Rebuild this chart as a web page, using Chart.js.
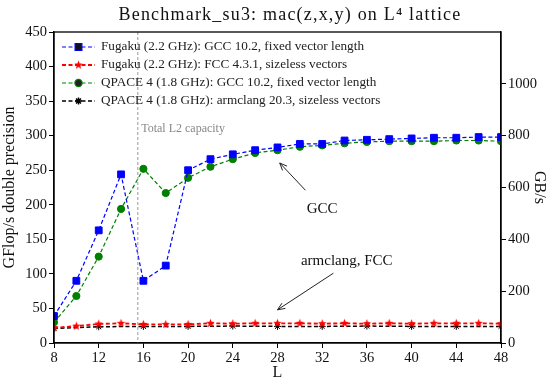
<!DOCTYPE html>
<html>
<head>
<meta charset="utf-8">
<script src="https://cdn.jsdelivr.net/npm/chart.js@4.4.1/dist/chart.umd.min.js"></script>
<style>
  html, body { margin: 0; padding: 0; background: #fff; }
  #wrap { width: 549px; height: 382px; }
</style>
</head>
<body>
<div id="wrap"><canvas id="chart" width="549" height="382"></canvas></div>
<script>
const FONT = "'Liberation Serif', 'DejaVu Serif', serif";

// lattice sizes
const L = [8, 10, 12, 14, 16, 18, 20, 22, 24, 26, 28, 30, 32, 34, 36, 38, 40, 42, 44, 46, 48];
const L_every4 = [8, 12, 16, 20, 24, 28, 32, 36, 40, 44, 48];

// GFlop/s
const fugakuGcc = [39, 90, 163, 244, 90, 112, 250, 266, 273, 279, 283, 288, 288, 293, 294, 295, 296, 297, 297, 298, 298];
const fugakuFcc = [22, 24.5, 27.5, 28.5, 27, 27, 27, 28.5, 28, 28.5, 28.5, 28.5, 28, 28.5, 28, 28.5, 28, 28.5, 28.5, 28.5, 28];
const qpaceGcc = [30, 68, 125, 194, 252, 217, 239, 255, 266, 275, 279, 284, 286, 289, 291, 292, 292, 292, 293, 293, 292];
const qpaceArm = [21, 23.5, 24, 24, 24.5, 24, 24, 24.5, 24, 24, 24];

const labels = [
  "Fugaku (2.2 GHz): GCC 10.2, fixed vector length",
  "Fugaku (2.2 GHz): FCC 4.3.1, sizeless vectors",
  "QPACE 4 (1.8 GHz): GCC 10.2, fixed vector length",
  "QPACE 4 (1.8 GHz): armclang 20.3, sizeless vectors",
];

const leftTicks = [0, 50, 100, 150, 200, 250, 300, 350, 400, 450];
const rightTicks = [0, 200, 400, 600, 800, 1000];
const xTicks = [8, 12, 16, 20, 24, 28, 32, 36, 40, 44, 48];
const l2Capacity = 15.5;

function pts(xs, ys) {
  return xs.map((x, i) => ({ x, y: ys[i] }));
}

// filled 5-point star, matplotlib '*'
function starCanvas(r, color) {
  const c = document.createElement("canvas");
  c.width = c.height = r * 2 + 2;
  const g = c.getContext("2d");
  g.translate(r + 1, r + 1);
  g.beginPath();
  for (let i = 0; i < 10; i++) {
    const rr = i % 2 ? r * 0.42 : r;
    const a = -Math.PI / 2 + (i * Math.PI) / 5;
    g.lineTo(rr * Math.cos(a), rr * Math.sin(a));
  }
  g.closePath();
  g.fillStyle = color;
  g.fill();
  return c;
}
const redStar = starCanvas(4.5, "#ff0000");

const frameAndNotes = {
  id: "frameAndNotes",
  afterDraw(chart) {
    const { ctx, chartArea: a, scales } = chart;
    const sx = scales.x, sy = scales.y;
    ctx.save();

    // L2 line
    ctx.strokeStyle = "#999";
    ctx.lineWidth = 1;
    ctx.setLineDash([3, 2]);
    const lx = sx.getPixelForValue(l2Capacity);
    ctx.beginPath();
    ctx.moveTo(lx, a.top);
    ctx.lineTo(lx, a.bottom);
    ctx.stroke();
    ctx.setLineDash([]);
    ctx.fillStyle = "#888";
    ctx.font = "12px " + FONT;
    ctx.textBaseline = "middle";
    ctx.fillText("Total L2 capacity", sx.getPixelForValue(15.8), sy.getPixelForValue(310));

    // frame
    ctx.strokeStyle = "#000";
    ctx.lineWidth = 1.3;
    ctx.strokeRect(a.left, a.top, a.right - a.left, a.bottom - a.top);

    // title
    ctx.fillStyle = "#111";
    ctx.font = "18px " + FONT;
    ctx.letterSpacing = "1.2px";
    ctx.textAlign = "center";
    ctx.textBaseline = "middle";
    ctx.fillText("Benchmark_su3: mac(z,x,y) on L\u2074 lattice", 290, 15);
    ctx.letterSpacing = "0px";

    // annotations
    ctx.font = "15px " + FONT;
    ctx.fillText("GCC", sx.getPixelForValue(32), sy.getPixelForValue(194));
    ctx.fillText("armclang, FCC", sx.getPixelForValue(34.2), sy.getPixelForValue(118.6));
    arrow(ctx, sx.getPixelForValue(30.5), sy.getPixelForValue(221), sx.getPixelForValue(28.2), sy.getPixelForValue(260.5));
    arrow(ctx, sx.getPixelForValue(33), sy.getPixelForValue(101), sx.getPixelForValue(28), sy.getPixelForValue(48));

    // legend
    ctx.textAlign = "left";
    ctx.font = "13.2px " + FONT;
    chart.data.datasets.forEach((ds, i) => {
      const y = 47 + i * 18;
      ctx.strokeStyle = ds.borderColor;
      ctx.lineWidth = ds.borderWidth;
      ctx.setLineDash(ds.borderDash);
      ctx.beginPath();
      ctx.moveTo(62, y);
      ctx.lineTo(95, y);
      ctx.stroke();
      ctx.setLineDash([]);
      Chart.helpers.drawPoint(ctx, {
        pointStyle: ds.pointStyle,
        radius: ds.pointRadius,
        borderWidth: ds.pointBorderWidth || 1,
        rotation: 0,
      }, 78.5, y);
      ctx.fillStyle = "#222";
      ctx.fillText(ds.label, 101, y);
    });
    ctx.restore();
  },
};

function arrow(ctx, x0, y0, x1, y1) {
  ctx.strokeStyle = "#222";
  ctx.lineWidth = 1;
  ctx.beginPath();
  ctx.moveTo(x0, y0);
  ctx.lineTo(x1, y1);
  const ang = Math.atan2(y1 - y0, x1 - x0);
  const h = 8;
  ctx.moveTo(x1 - h * Math.cos(ang - 0.4), y1 - h * Math.sin(ang - 0.4));
  ctx.lineTo(x1, y1);
  ctx.lineTo(x1 - h * Math.cos(ang + 0.4), y1 - h * Math.sin(ang + 0.4));
  ctx.stroke();
}

function series(label, data, color, style, radius, width) {
  return {
    label,
    data,
    borderColor: color,
    backgroundColor: color,
    borderWidth: width,
    borderDash: [4, 2.5],
    pointStyle: style,
    pointRadius: radius,
    pointBorderWidth: 1,
    pointHoverRadius: radius,
    tension: 0,
  };
}

const tickFont = { family: FONT, size: 14.5 };
const titleFont = { family: FONT, size: 16 };

new Chart(document.getElementById("chart"), {
  type: "line",
  data: {
    datasets: [
      series(labels[0], pts(L, fugakuGcc), "#0000ff", "rect", 4.8, 1.2),
      series(labels[1], pts(L, fugakuFcc), "#ff0000", redStar, 4.5, 1.8),
      series(labels[2], pts(L, qpaceGcc), "#008000", "circle", 3.6, 1.2),
      series(labels[3], pts(L_every4, qpaceArm), "#000000", "star", 3.5, 1.5),
    ],
  },
  options: {
    responsive: false,
    animation: false,
    layout: { padding: { top: 32 } },
    plugins: { legend: { display: false }, tooltip: { enabled: false }, title: { display: false } },
    scales: {
      x: {
        type: "linear",
        min: 8,
        max: 48,
        afterBuildTicks: (s) => { s.ticks = xTicks.map((v) => ({ value: v })); },
        afterFit: (s) => { s.height = 39; },
        ticks: { color: "#111", font: tickFont, padding: 1, maxRotation: 0 },
        grid: { drawOnChartArea: false, tickLength: 5, color: "#000" },
        border: { color: "#000", width: 1.3 },
        title: { display: true, text: "L", color: "#111", font: titleFont, padding: { top: -3, bottom: 0 } },
      },
      y: {
        min: 0,
        max: 450,
        afterBuildTicks: (s) => { s.ticks = leftTicks.map((v) => ({ value: v })); },
        afterFit: (s) => { s.width = 54; },
        ticks: { color: "#111", font: tickFont, padding: 2 },
        grid: { drawOnChartArea: false, tickLength: 5, color: "#000" },
        border: { color: "#000", width: 1.3 },
        title: { display: true, text: "GFlop/s double precision", color: "#111", font: titleFont, padding: { top: 0, bottom: 0 } },
      },
      y2: {
        position: "right",
        min: 0,
        max: 1200,
        afterBuildTicks: (s) => { s.ticks = rightTicks.map((v) => ({ value: v })); },
        afterFit: (s) => { s.width = 48; },
        ticks: { color: "#111", font: tickFont, padding: 2, callback: (v) => String(v) },
        grid: { drawOnChartArea: false, tickLength: 5, color: "#000" },
        border: { color: "#000", width: 1.3 },
        title: { display: true, text: "GB/s", color: "#111", font: titleFont, padding: { top: 0, bottom: 2 } },
      },
    },
  },
  plugins: [frameAndNotes],
});
</script>
</body>
</html>
